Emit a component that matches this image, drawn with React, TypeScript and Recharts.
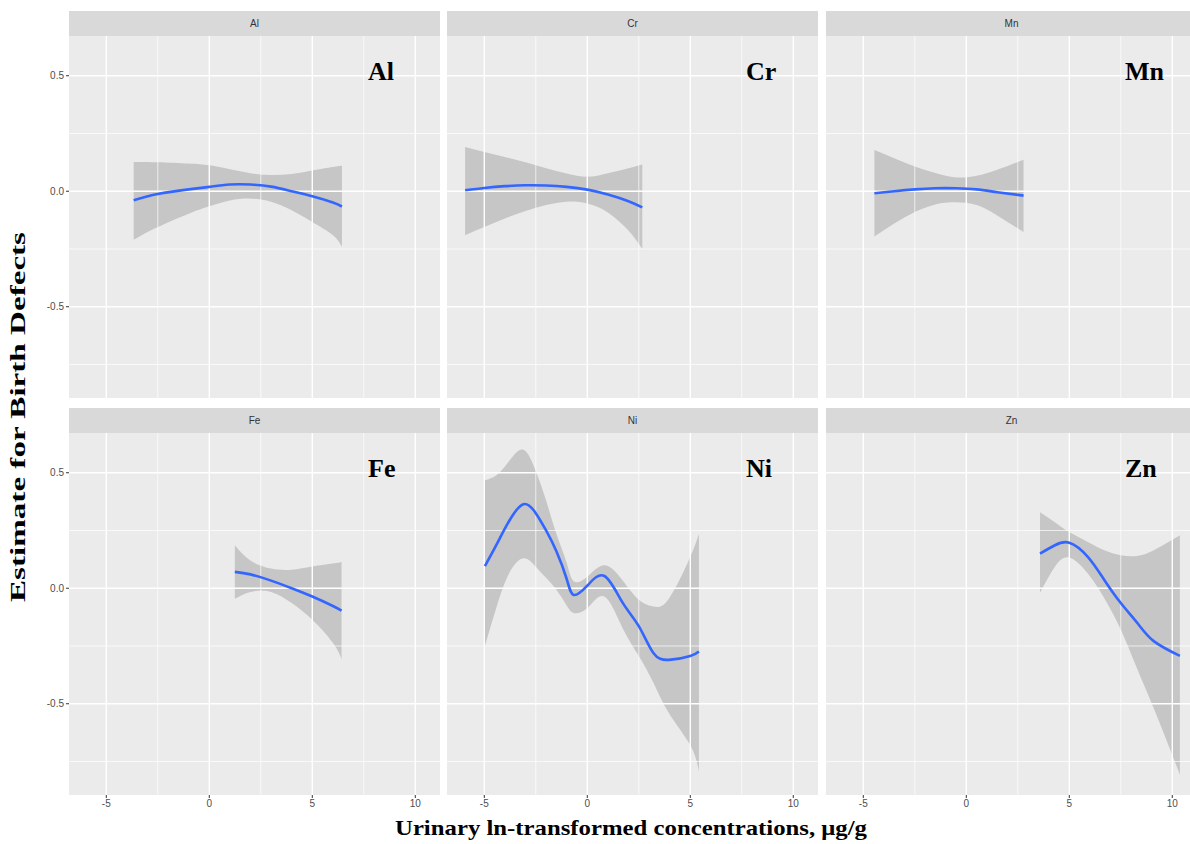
import React from 'react';
import { ComposedChart, Area, Line, XAxis, YAxis, ReferenceLine } from 'recharts';

// axis ticks (major + minor grid)
const X_MAJOR = [-5, 0, 5, 10];
const X_MINOR = [-2.5, 2.5, 7.5];
const Y_MAJOR = [-0.5, 0, 0.5];
const Y_MINOR = [-0.75, -0.25, 0.25];
const X_DOMAIN: [number, number] = [-6.81, 11.2];
const Y_DOMAIN: [number, number] = [-0.895, 0.672];

// Al
const AL_X = [-3.67, -2.5, -1, 0, 1, 2, 3, 4, 5, 6, 6.44];
const AL_FIT = [-0.039, -0.012, 0.008, 0.019, 0.029, 0.029, 0.02, 0.0, -0.022, -0.049, -0.066];
const AL_LO = [-0.21, -0.155, -0.097, -0.065, -0.04, -0.032, -0.045, -0.082, -0.133, -0.19, -0.24];
const AL_HI = [0.127, 0.126, 0.12, 0.112, 0.095, 0.078, 0.07, 0.075, 0.09, 0.105, 0.11];

// Cr
const CR_X = [-5.93, -5, -4, -3, -2, -1, 0, 1, 2, 2.67];
const CR_FIT = [0.004, 0.014, 0.022, 0.026, 0.025, 0.019, 0.007, -0.014, -0.043, -0.07];
const CR_LO = [-0.19, -0.155, -0.118, -0.085, -0.06, -0.045, -0.053, -0.092, -0.17, -0.25];
const CR_HI = [0.192, 0.17, 0.148, 0.125, 0.1, 0.077, 0.063, 0.078, 0.1, 0.116];

// Mn
const MN_X = [-4.46, -3.5, -2.5, -1.5, -0.5, 0.5, 1.5, 2.78];
const MN_FIT = [-0.009, 0.0, 0.008, 0.013, 0.013, 0.008, -0.004, -0.019];
const MN_LO = [-0.196, -0.14, -0.09, -0.057, -0.048, -0.06, -0.105, -0.176];
const MN_HI = [0.179, 0.143, 0.107, 0.079, 0.06, 0.067, 0.093, 0.136];

// Fe
const FE_X = [1.24, 2, 3, 4, 5, 6, 6.42];
const FE_FIT = [0.071, 0.06, 0.033, 0.0, -0.036, -0.077, -0.097];
const FE_LO = [-0.046, -0.016, -0.016, -0.064, -0.136, -0.236, -0.307];
const FE_HI = [0.186, 0.12, 0.085, 0.08, 0.094, 0.107, 0.114];

// Ni
const NI_X = [-4.97, -4.4, -3.8, -3.1, -2.5, -2, -1.5, -1, -0.66, 0, 0.83, 1.7, 2.5, 3.2, 3.96, 5, 5.42];
const NI_FIT = [0.096, 0.19, 0.29, 0.364, 0.325, 0.25, 0.16, 0.04, -0.029, 0.011, 0.053, -0.06, -0.164, -0.279, -0.31, -0.293, -0.274];
const NI_LO = [-0.25, -0.08, 0.064, 0.13, 0.093, 0.045, -0.007, -0.075, -0.107, -0.086, -0.036, -0.17, -0.293, -0.407, -0.54, -0.68, -0.793];
const NI_HI = [0.467, 0.49, 0.55, 0.6, 0.507, 0.38, 0.236, 0.11, 0.03, 0.05, 0.1, 0.036, -0.05, -0.079, -0.045, 0.136, 0.236];

// Zn
const ZN_X = [3.58, 4.3, 5, 5.9, 6.7, 7.5, 8.3, 9.1, 10.37];
const ZN_FIT = [0.15, 0.186, 0.197, 0.136, 0.036, -0.064, -0.15, -0.229, -0.293];
const ZN_LO = [-0.019, 0.093, 0.133, 0.064, -0.043, -0.179, -0.35, -0.52, -0.807];
const ZN_HI = [0.329, 0.286, 0.243, 0.2, 0.164, 0.143, 0.14, 0.164, 0.229];

const PANELS = [
  { name: 'Al', x: AL_X, fit: AL_FIT, lo: AL_LO, hi: AL_HI },
  { name: 'Cr', x: CR_X, fit: CR_FIT, lo: CR_LO, hi: CR_HI },
  { name: 'Mn', x: MN_X, fit: MN_FIT, lo: MN_LO, hi: MN_HI },
  { name: 'Fe', x: FE_X, fit: FE_FIT, lo: FE_LO, hi: FE_HI },
  { name: 'Ni', x: NI_X, fit: NI_FIT, lo: NI_LO, hi: NI_HI },
  { name: 'Zn', x: ZN_X, fit: ZN_FIT, lo: ZN_LO, hi: ZN_HI },
];

// layout
const COL_LEFT = [69, 447, 826];
const ROW_TOP = [36, 433];
const PLOT_W = 371;
const PLOT_H = 362;
const STRIP_H = 25;
const Y_AXIS_W = 38;
const X_AXIS_H = 20;

const tickStyle = { fontSize: 10, fill: '#4D4D4D', fontFamily: 'Liberation Sans, Arial, sans-serif' };
const serif = 'Liberation Serif, Times New Roman, serif';

const fmtY = (v: number) => v.toFixed(1);

function Panel({ p, col, row }: { p: typeof PANELS[number]; col: number; row: number }) {
  const showY = col === 0;
  const showX = row === 1;
  const left = COL_LEFT[col] - (showY ? Y_AXIS_W : 0);
  const top = ROW_TOP[row];
  const data = p.x.map((x, i) => ({ x, fit: p.fit[i], band: [p.lo[i], p.hi[i]] }));

  return (
    <>
      <div
        style={{
          position: 'absolute', left: COL_LEFT[col], top: top - STRIP_H, width: PLOT_W, height: STRIP_H,
          background: '#D9D9D9', color: '#333', fontSize: 10, lineHeight: STRIP_H + 'px', textAlign: 'center',
          fontFamily: 'Liberation Sans, Arial, sans-serif',
        }}
      >
        {p.name}
      </div>
      <div style={{ position: 'absolute', left: COL_LEFT[col], top, width: PLOT_W, height: PLOT_H, background: '#EBEBEB' }} />
      <div style={{ position: 'absolute', left, top }}>
        <ComposedChart
          width={PLOT_W + (showY ? Y_AXIS_W : 0)}
          height={PLOT_H + (showX ? X_AXIS_H : 0)}
          data={data}
          margin={{ top: 0, right: 0, bottom: 0, left: 0 }}
        >
          <XAxis
            dataKey="x" type="number" domain={X_DOMAIN} ticks={X_MAJOR} interval={0} allowDataOverflow
            hide={!showX} height={X_AXIS_H} axisLine={false} tickSize={3} tickMargin={2}
            tickLine={{ stroke: '#333' }} tick={tickStyle}
          />
          <YAxis
            type="number" domain={Y_DOMAIN} ticks={Y_MAJOR} interval={0} allowDataOverflow
            hide={!showY} width={Y_AXIS_W} axisLine={false} tickSize={3} tickMargin={2}
            tickLine={{ stroke: '#333' }} tick={tickStyle} tickFormatter={fmtY}
          />
          {X_MINOR.map(v => <ReferenceLine key={'xn' + v} x={v} stroke="#fff" strokeWidth={0.7} />)}
          {Y_MINOR.map(v => <ReferenceLine key={'yn' + v} y={v} stroke="#fff" strokeWidth={0.7} />)}
          {X_MAJOR.map(v => <ReferenceLine key={'xj' + v} x={v} stroke="#fff" strokeWidth={1.4} />)}
          {Y_MAJOR.map(v => <ReferenceLine key={'yj' + v} y={v} stroke="#fff" strokeWidth={1.4} />)}
          <Area dataKey="band" type="natural" stroke="none" fill="#999999" fillOpacity={0.45} isAnimationActive={false} />
          <Line dataKey="fit" type="natural" stroke="#3366FF" strokeWidth={2.6} dot={false} isAnimationActive={false} />
        </ComposedChart>
      </div>
    </>
  );
}

export default function App() {
  return (
    <div style={{ position: 'absolute', left: 0, top: 0, width: 1190, height: 844, overflow: 'hidden', background: '#fff' }}>
      {PANELS.map((p, i) => (
        <Panel key={p.name} p={p} col={i % 3} row={Math.floor(i / 3)} />
      ))}
      <svg width={1190} height={844} style={{ position: 'absolute', left: 0, top: 0, pointerEvents: 'none' }}>
        {PANELS.map((p, i) => (
          <text
            key={p.name}
            x={COL_LEFT[i % 3] + 299}
            y={ROW_TOP[Math.floor(i / 3)] + 44}
            fontFamily={serif}
            fontWeight="bold"
            fontSize={26}
            fill="#000"
          >
            {p.name}
          </text>
        ))}
        <text
          x={25} y={417} transform="rotate(-90 25 417)" textAnchor="middle"
          fontFamily={serif} fontWeight="bold" fontSize={21}
          textLength={370} lengthAdjust="spacingAndGlyphs" fill="#000"
        >
          Estimate for Birth Defects
        </text>
        <text
          x={631} y={835} textAnchor="middle"
          fontFamily={serif} fontWeight="bold" fontSize={21}
          textLength={472} lengthAdjust="spacingAndGlyphs" fill="#000"
        >
          Urinary ln-transformed concentrations, μg/g
        </text>
      </svg>
    </div>
  );
}
